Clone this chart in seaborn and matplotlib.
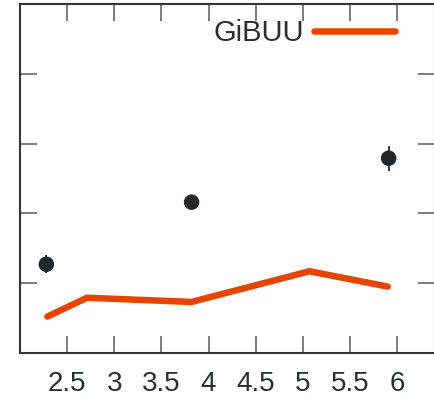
import matplotlib
matplotlib.use("Agg")
import matplotlib.pyplot as plt
import seaborn as sns
import pandas as pd

# data
data_x = [2.28, 3.82, 5.91]
data_y = [1.27, 2.16, 2.79]
data_err = [0.13, 0.05, 0.18]

gibuu_x = [2.29, 2.71, 3.82, 5.07, 5.90]
gibuu_y = [0.52, 0.79, 0.73, 1.17, 0.95]

xticks = [2.5, 3, 3.5, 4, 4.5, 5, 5.5, 6]
xticklabels = ["2.5", "3", "3.5", "4", "4.5", "5", "5.5", "6"]
yticks = [1, 2, 3, 4]

sns.set_theme(style="white")
plt.rcParams['font.family'] = ['Liberation Sans', 'DejaVu Sans']

fig = plt.figure(figsize=(4.34, 4.01), dpi=100)
ax = fig.add_axes([0.046, 0.12, 0.956, 0.87])

df_line = pd.DataFrame({"x": gibuu_x, "y": gibuu_y})
sns.lineplot(data=df_line, x="x", y="y", ax=ax, color="#e54500", linewidth=4.7,
             label="GiBUU", solid_joinstyle="miter")

ax.errorbar(data_x, data_y, yerr=data_err, fmt="none", ecolor="#23272b", elinewidth=1.3)
df_pts = pd.DataFrame({"x": data_x, "y": data_y})
sns.scatterplot(data=df_pts, x="x", y="y", ax=ax, color="#23272b", s=125, edgecolor="none", zorder=5)

ax.set_xlim(2.0, 6.4)
ax.set_ylim(0, 5)
ax.set_xticks(xticks)
ax.set_xticklabels(xticklabels)
ax.set_yticks(yticks)
ax.set_yticklabels([])
ax.set_xlabel("")
ax.set_ylabel("")

ax.tick_params(axis="both", direction="in", length=12, width=1.2, color="#666666",
               top=True, right=True, bottom=True, left=True)
ax.tick_params(axis="x", labelsize=20, pad=13, labelcolor="#2a2e33")

for s in ax.spines.values():
    s.set_color("#333333")
    s.set_linewidth(1.5)

leg = ax.legend(loc="upper right", frameon=False, markerfirst=False, fontsize=21,
                handlelength=2.75, handletextpad=0.35, borderaxespad=0.0,
                bbox_to_anchor=(0.931, 0.99))
for t in leg.get_texts():
    t.set_color("#2a2e33")

fig.savefig("out.png", dpi=100)
